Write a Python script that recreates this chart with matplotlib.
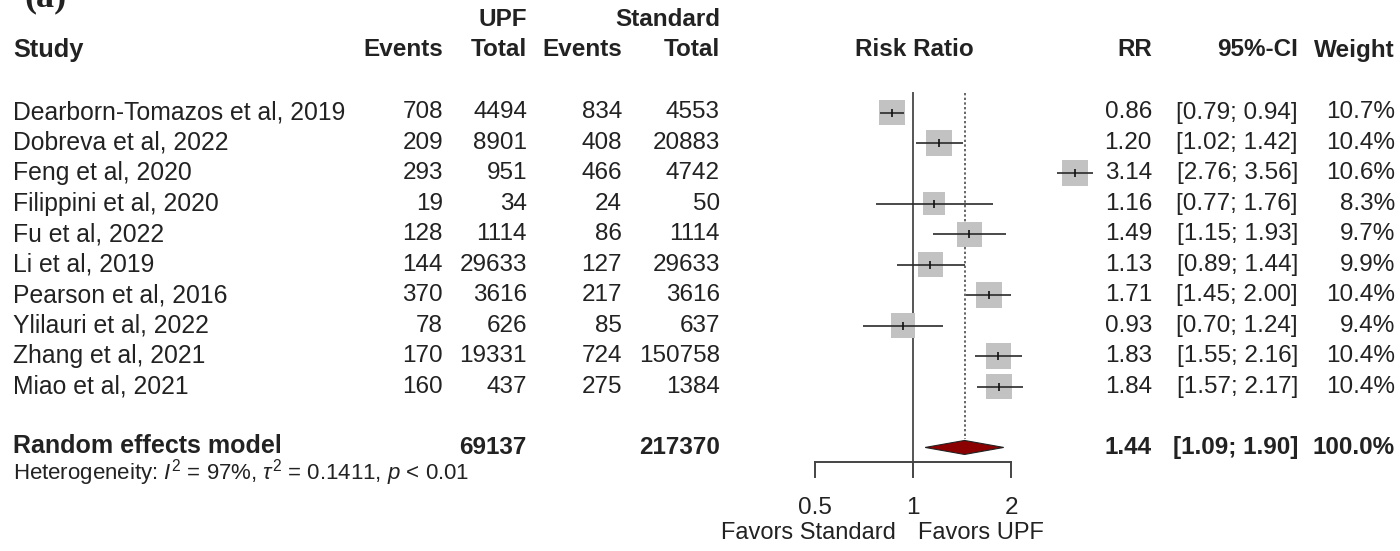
import matplotlib
matplotlib.use("Agg")
import matplotlib.pyplot as plt
from matplotlib.patches import Polygon

plt.rcParams['font.family'] = ['Liberation Sans', 'DejaVu Sans']
plt.rcParams['mathtext.fontset'] = 'custom'
plt.rcParams['mathtext.rm'] = 'Liberation Sans'
plt.rcParams['mathtext.it'] = 'Liberation Sans:italic'

# study level data
studies = ["Dearborn-Tomazos et al, 2019", "Dobreva et al, 2022", "Feng et al, 2020",
           "Filippini et al, 2020", "Fu et al, 2022", "Li et al, 2019",
           "Pearson et al, 2016", "Ylilauri et al, 2022", "Zhang et al, 2021",
           "Miao et al, 2021"]
upf_events = [708, 209, 293, 19, 128, 144, 370, 78, 170, 160]
upf_total = [4494, 8901, 951, 34, 1114, 29633, 3616, 626, 19331, 437]
std_events = [834, 408, 466, 24, 86, 127, 217, 85, 724, 275]
std_total = [4553, 20883, 4742, 50, 1114, 29633, 3616, 637, 150758, 1384]
rr = [0.86, 1.20, 3.14, 1.16, 1.49, 1.13, 1.71, 0.93, 1.83, 1.84]
ci_lo = [0.79, 1.02, 2.76, 0.77, 1.15, 0.89, 1.45, 0.70, 1.55, 1.57]
ci_hi = [0.94, 1.42, 3.56, 1.76, 1.93, 1.44, 2.00, 1.24, 2.16, 2.17]
weight = [10.7, 10.4, 10.6, 8.3, 9.7, 9.9, 10.4, 9.4, 10.4, 10.4]

# pooled (random effects) result
pooled_rr, pooled_lo, pooled_hi = 1.44, 1.09, 1.90
pooled_upf_total, pooled_std_total = 69137, 217370
heterogeneity = r"Heterogeneity: $I^2$ = 97%, $\tau^2$ = 0.1411, $p$ < 0.01"

axis_ticks = [0.5, 1, 2]
axis_ticklabels = ["0.5", "1", "2"]

W, H = 1400, 551
FS = 17.5
TXT = '#222222'

fig = plt.figure(figsize=(W / 100, H / 100), dpi=100)

# text table, in pixel layout
tab = fig.add_axes([0, 0, 1, 1])
tab.set_xlim(0, W)
tab.set_ylim(H, 0)
tab.axis('off')

ROW0, DY = 112.5, 30.45
row_y = [ROW0 + i * DY for i in range(len(studies))]
pool_y = ROW0 + (len(studies) + 1) * DY
het_y = pool_y + 25

X_STUDY, X_UE, X_UT, X_SE, X_ST = 13, 443, 527, 622, 720
X_RR, X_CI, X_W = 1152, 1298, 1395

tab.text(24, 14, "(a)", family='Liberation Serif', fontweight='bold', fontsize=26,
         va='bottom', ha='left', color=TXT)

bold = dict(fontsize=FS, fontweight='bold', color=TXT, va='center')
tab.text(X_UT, 20, "UPF", ha='right', **bold)
tab.text(X_ST, 20, "Standard", ha='right', **bold)
tab.text(X_STUDY, 50, "Study", ha='left', fontsize=18.3, fontweight='bold', color=TXT,
         va='center')
for x, lab in [(X_UE, "Events"), (X_UT, "Total"), (X_SE, "Events"), (X_ST, "Total"),
               (X_RR, "RR"), (X_CI, "95%-CI"), (X_W, "Weight")]:
    tab.text(x, 50, lab, ha='right', **bold)
tab.text(914, 50, "Risk Ratio", ha='center', **bold)

norm = dict(fontsize=FS, color=TXT, va='center')
for i, y in enumerate(row_y):
    tab.text(X_STUDY, y, studies[i], ha='left', fontsize=17.8, color=TXT, va='center')
    tab.text(X_UE, y, str(upf_events[i]), ha='right', **norm)
    tab.text(X_UT, y, str(upf_total[i]), ha='right', **norm)
    tab.text(X_SE, y, str(std_events[i]), ha='right', **norm)
    tab.text(X_ST, y, str(std_total[i]), ha='right', **norm)
    tab.text(X_RR, y, f"{rr[i]:.2f}", ha='right', **norm)
    tab.text(X_CI, y, f"[{ci_lo[i]:.2f}; {ci_hi[i]:.2f}]", ha='right', **norm)
    tab.text(X_W, y, f"{weight[i]:.1f}%", ha='right', **norm)

tab.text(X_STUDY, pool_y - 1, "Random effects model", ha='left', fontsize=18,
         fontweight='bold', color=TXT, va='center')
tab.text(X_UT, pool_y, str(pooled_upf_total), ha='right', **bold)
tab.text(X_ST, pool_y, str(pooled_std_total), ha='right', **bold)
tab.text(X_RR, pool_y, f"{pooled_rr:.2f}", ha='right', **bold)
tab.text(X_CI, pool_y, f"[{pooled_lo:.2f}; {pooled_hi:.2f}]", ha='right', **bold)
tab.text(X_W, pool_y, "100.0%", ha='right', **bold)
tab.text(X_STUDY, het_y, heterogeneity, ha='left', fontsize=16, color=TXT, va='center')

# forest panel: log scale, 0.5..2 mapped onto the axis line
X05, X2 = 815, 1011
fp = fig.add_axes([X05 / W, 0, (X2 - X05) / W, 1])
fp.set_xscale('log')
fp.set_xlim(0.5, 2)
fp.set_ylim(H, 0)
fp.axis('off')

top_y = ROW0 - 20
axis_y = 462

fp.plot([1, 1], [top_y, axis_y], color='#555555', lw=1.4, clip_on=False, zorder=1)
fp.plot([pooled_rr, pooled_rr], [top_y, pool_y - 8], color='#666666', lw=1.4,
        ls=(0, (1.2, 1.2)), clip_on=False, zorder=1)

side_pt = 18.7  # square side for the 10.7% study
sizes = [(side_pt ** 2) * w / max(weight) for w in weight]
fp.scatter(rr, row_y, s=sizes, marker='s', color='#c2c2c2', edgecolors='none',
           zorder=2, clip_on=False)
fp.hlines(row_y, ci_lo, ci_hi, color='#2a2a2a', lw=1.2, zorder=3, clip_on=False)
fp.scatter(rr, row_y, s=30, marker='|', color='#111111', linewidths=1.2, zorder=4,
           clip_on=False)

dh = 7
diamond = Polygon([(pooled_lo, pool_y), (pooled_rr, pool_y - dh), (pooled_hi, pool_y),
                   (pooled_rr, pool_y + dh)], closed=True, facecolor='#8b0000',
                  edgecolor='#222222', lw=0.8, zorder=3, clip_on=False)
fp.add_patch(diamond)

fp.plot([axis_ticks[0], axis_ticks[-1]], [axis_y, axis_y], color='#444444', lw=1.4,
        clip_on=False)
for t, lab in zip(axis_ticks, axis_ticklabels):
    fp.plot([t, t], [axis_y, axis_y + 15], color='#444444', lw=1.4, clip_on=False)
    fp.text(t, 508, lab, ha='center', va='center', fontsize=FS, color=TXT)
fp.text(0.885, 533, "Favors Standard", ha='right', va='center', fontsize=17, color=TXT)
fp.text(1.035, 533, "Favors UPF", ha='left', va='center', fontsize=17, color=TXT)

fig.savefig("out.png", dpi=100, facecolor='white')
